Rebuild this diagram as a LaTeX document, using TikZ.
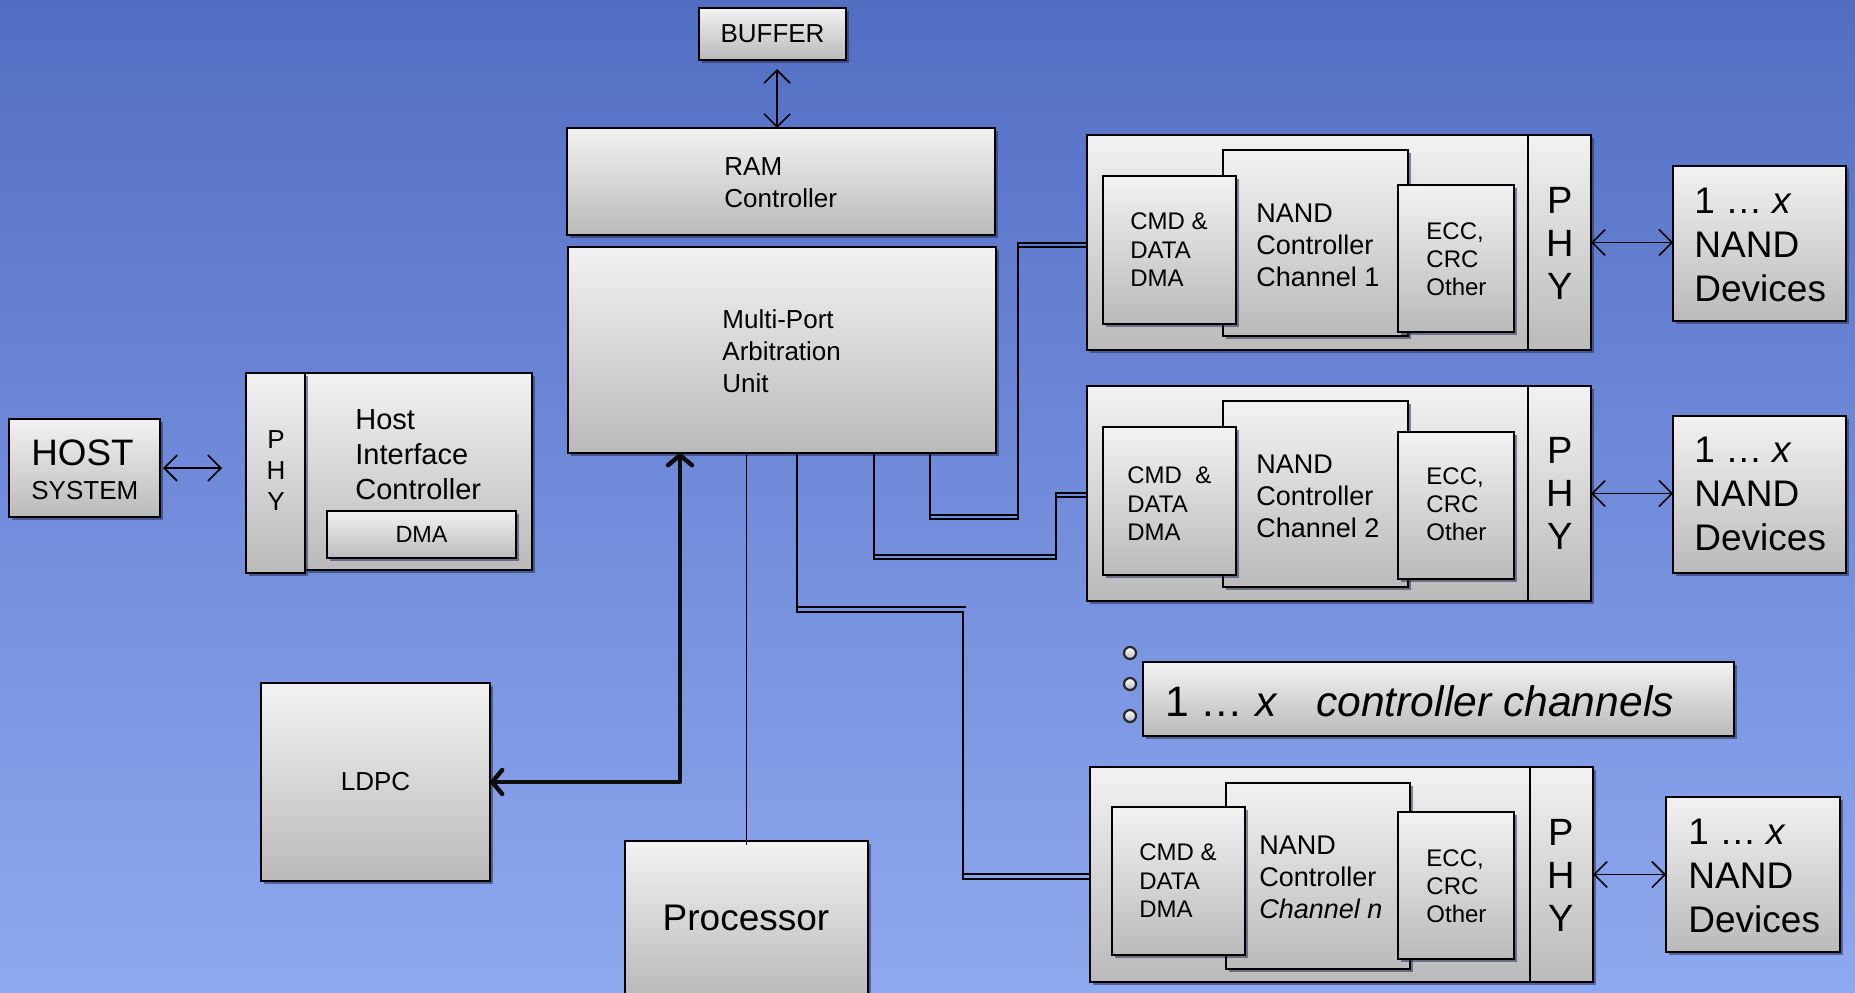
\documentclass[tikz,border=0pt]{standalone}
\usepackage{fontspec}
\setmainfont{Liberation Sans}
\usetikzlibrary{fit,shadows,arrows.meta}
\definecolor{bgtop}{RGB}{82,110,195}
\definecolor{bgbot}{RGB}{143,169,240}
\definecolor{boxtop}{RGB}{242,242,242}
\definecolor{boxbot}{RGB}{186,186,186}
\definecolor{shad}{RGB}{35,45,85}
\tikzset{
  blk/.style={draw=black, line width=0.8pt, top color=boxtop, bottom color=boxbot,
    inner sep=0pt, outer sep=0pt, fit={#1},
    drop shadow={shadow xshift=1.6pt, shadow yshift=-1.6pt, fill=shad, opacity=0.55}},
  txt/.style={inner sep=0pt, align=left, anchor=west},
  ctxt/.style={inner sep=0pt, align=center},
  wire/.style={line width=0.8pt, draw=black},
  arr/.style={line width=0.8pt, draw=black,
    {Straight Barb[length=6.5pt,width=13pt]}-{Straight Barb[length=6.5pt,width=13pt]}},
  bigarr/.style={line width=2.2pt, draw=black!95, line cap=round, line join=round,
    {Straight Barb[length=5pt,width=12pt,round]}-{Straight Barb[length=5pt,width=12pt,round]}},
  dotnode/.style={circle, draw=black!85, line width=1.1pt, inner sep=0pt, minimum size=6pt,
    top color=white, bottom color=gray!55},
}
\begin{document}
\begin{tikzpicture}[x=0.5pt,y=-0.5pt]
\useasboundingbox (0,0) rectangle (1855,992);
\clip (0,0) rectangle (1855,992);
\shade[top color=bgtop,bottom color=bgbot] (0,0) rectangle (1855,992);

% ---------- host side ----------
\node[blk={(9,419) (160,517)}] (host) {};
\node[txt, font=\fontsize{18.4}{20}\selectfont] (hostA) at (31,453) {HOST};
\node[txt, font=\fontsize{13}{15}\selectfont] (hostB) at (31,491) {SYSTEM};
\node[blk={(305,373) (532,570)}] (hic) {};
\node[blk={(246,373) (305,573)}] (hphy) {};
\node[ctxt, font=\fontsize{13}{15.5}\selectfont] (hphyt) at (276,471) {P\\H\\Y};
\node[txt, font=\fontsize{14.5}{17.5}\selectfont] (hict) at (355,455) {Host\\Interface\\Controller};
\node[blk={(327,511) (516,558)}] (hdma) {};
\node[ctxt, font=\fontsize{11.7}{14}\selectfont] (hdmat) at (hdma.center) {DMA};
\draw[arr, shorten <=1.5pt, shorten >=12pt] (host.east) -- (host.east -| hphy.west);

% ---------- buffer / RAM / arbitration ----------
\node[blk={(699,8) (846,60)}] (buf) {};
\node[ctxt, font=\fontsize{13}{15}\selectfont] (buft) at (buf.center) {BUFFER};
\node[blk={(567,128) (995,235)}] (ram) {};
\node[txt, font=\fontsize{13}{16}\selectfont] (ramt) at (724,183) {RAM\\Controller};
\coordinate (bx) at (777,0);
\draw[arr, shorten <=4.5pt] (buf.south -| bx) -- (ram.north -| bx);
\node[blk={(568,247) (996,453)}] (mpau) {};
\node[txt, font=\fontsize{13}{16}\selectfont] (mpaut) at (722,351) {Multi-Port\\Arbitration\\Unit};

% ---------- LDPC / processor ----------
\node[blk={(261,683) (490,881)}] (ldpc) {};
\node[ctxt, font=\fontsize{13}{15}\selectfont] (ldpct) at (ldpc.center) {LDPC};
\node[blk={(625,841) (868,996)}] (proc) {};
\node[ctxt, font=\fontsize{18.5}{20}\selectfont] (proct) at (746,918) {Processor};
\draw[wire] (mpau.south -| proc.north) -- ([yshift=-2pt]proc.north);
\coordinate (tk) at (680,782);
\draw[bigarr] (ldpc.east) -| (mpau.south -| tk);

% ---------- channel 1 ----------
\node[blk={(1087,135) (1528,350)}] (ch1) {};
\node[blk={(1528,135) (1591,350)}] (phy1) {};
\node[ctxt, font=\fontsize{19}{21.5}\selectfont] (phy1t) at (1560,243) {P\\H\\Y};
\node[blk={(1223,150) (1408,336)}] (nc1) {};
\node[blk={(1103,176) (1236,324)}] (cmd1) {};
\node[blk={(1398,185) (1514,332)}] (ecc1) {};
\node[txt, font=\fontsize{12}{14.25}\selectfont] (cmd1t) at (1130,250) {CMD \&\\DATA\\DMA};
\node[txt, font=\fontsize{13.5}{16}\selectfont] (nc1t) at (1256,245) {NAND\\Controller\\Channel 1};
\node[txt, font=\fontsize{12}{14}\selectfont] (ecc1t) at (1426,259) {ECC,\\CRC\\Other};
\node[blk={(1673,166) (1846,321)}] (nd1) {};
\node[txt, font=\fontsize{18.5}{22}\selectfont] (nd1t) at (1694,245) {1 … \textit{x}\\NAND\\Devices};
\draw[arr] (phy1.east) -- (phy1.east -| nd1.west);

% ---------- channel 2 ----------
\node[blk={(1087,386) (1528,601)}] (ch2) {};
\node[blk={(1528,386) (1591,601)}] (phy2) {};
\node[ctxt, font=\fontsize{19}{21.5}\selectfont] (phy2t) at (1560,493) {P\\H\\Y};
\node[blk={(1223,401) (1408,587)}] (nc2) {};
\node[blk={(1103,427) (1236,575)}] (cmd2) {};
\node[blk={(1398,432) (1514,579)}] (ecc2) {};
\node[txt, font=\fontsize{12}{14.25}\selectfont] (cmd2t) at (1127,504) {CMD~~\&\\DATA\\DMA};
\node[txt, font=\fontsize{13.5}{16}\selectfont] (nc2t) at (1256,496) {NAND\\Controller\\Channel 2};
\node[txt, font=\fontsize{12}{14}\selectfont] (ecc2t) at (1426,504) {ECC,\\CRC\\Other};
\node[blk={(1673,416) (1846,573)}] (nd2) {};
\node[txt, font=\fontsize{18.5}{22}\selectfont] (nd2t) at (1694,494) {1 … \textit{x}\\NAND\\Devices};
\draw[arr] (phy2.east) -- (phy2.east -| nd2.west);

% ---------- "1 ... x controller channels" ----------
\node[dotnode] (dotA) at (1130,653) {};
\node[dotnode] (dotB) at (1130,684) {};
\node[dotnode] (dotC) at (1130,716) {};
\node[blk={(1143,662) (1734,736)}] (ccb) {};
\node[txt, font=\fontsize{21.3}{24}\selectfont] (ccbt) at (1165,701) {1 … \textit{x}\hspace{0.9em}\textit{controller channels}};

% ---------- channel n ----------
\node[blk={(1090,767) (1530,982)}] (chn) {};
\node[blk={(1530,767) (1593,982)}] (phyn) {};
\node[ctxt, font=\fontsize{19}{21.5}\selectfont] (phynt) at (1561,875) {P\\H\\Y};
\node[blk={(1226,783) (1410,969)}] (ncn) {};
\node[blk={(1112,807) (1245,955)}] (cmdn) {};
\node[blk={(1398,812) (1514,959)}] (eccn) {};
\node[txt, font=\fontsize{12}{14.25}\selectfont] (cmdnt) at (1139,881) {CMD \&\\DATA\\DMA};
\node[txt, font=\fontsize{13.5}{16}\selectfont] (ncnt) at (1259,877) {NAND\\Controller\\\textit{Channel n}};
\node[txt, font=\fontsize{12}{14}\selectfont] (ecct) at (1426,886) {ECC,\\CRC\\Other};
\node[blk={(1666,797) (1840,952)}] (ndn) {};
\node[txt, font=\fontsize{18.5}{22}\selectfont] (ndnt) at (1688,876) {1 … \textit{x}\\NAND\\Devices};
\draw[arr] (phyn.east) -- (phyn.east -| ndn.west);

% ---------- arbitration connectors (double horizontal runs) ----------
\coordinate (a1) at (930,519);
\coordinate (b1) at (1018,243);
\draw[wire] (mpau.south -| a1) -- (a1) -| (b1) -- (b1 -| ch1.west);
\draw[wire] (930,515) -- (1018,515);
\draw[wire] (1018,247) -- (ch1.west |- 0,247);

\coordinate (a2) at (874,559);
\coordinate (b2) at (1056,493);
\draw[wire] (mpau.south -| a2) -- (a2) -| (b2) -- (b2 -| ch2.west);
\draw[wire] (874,555) -- (1056,555);
\draw[wire] (1056,497) -- (ch2.west |- 0,497);

\coordinate (an) at (797,612);
\coordinate (bn) at (963,879);
\draw[wire] (mpau.south -| an) -- (an) -| (bn) -- (bn -| chn.west);
\draw[wire] (797,607) -- (966,607);
\draw[wire] (963,874) -- (chn.west |- 0,874);
\end{tikzpicture}
\end{document}
